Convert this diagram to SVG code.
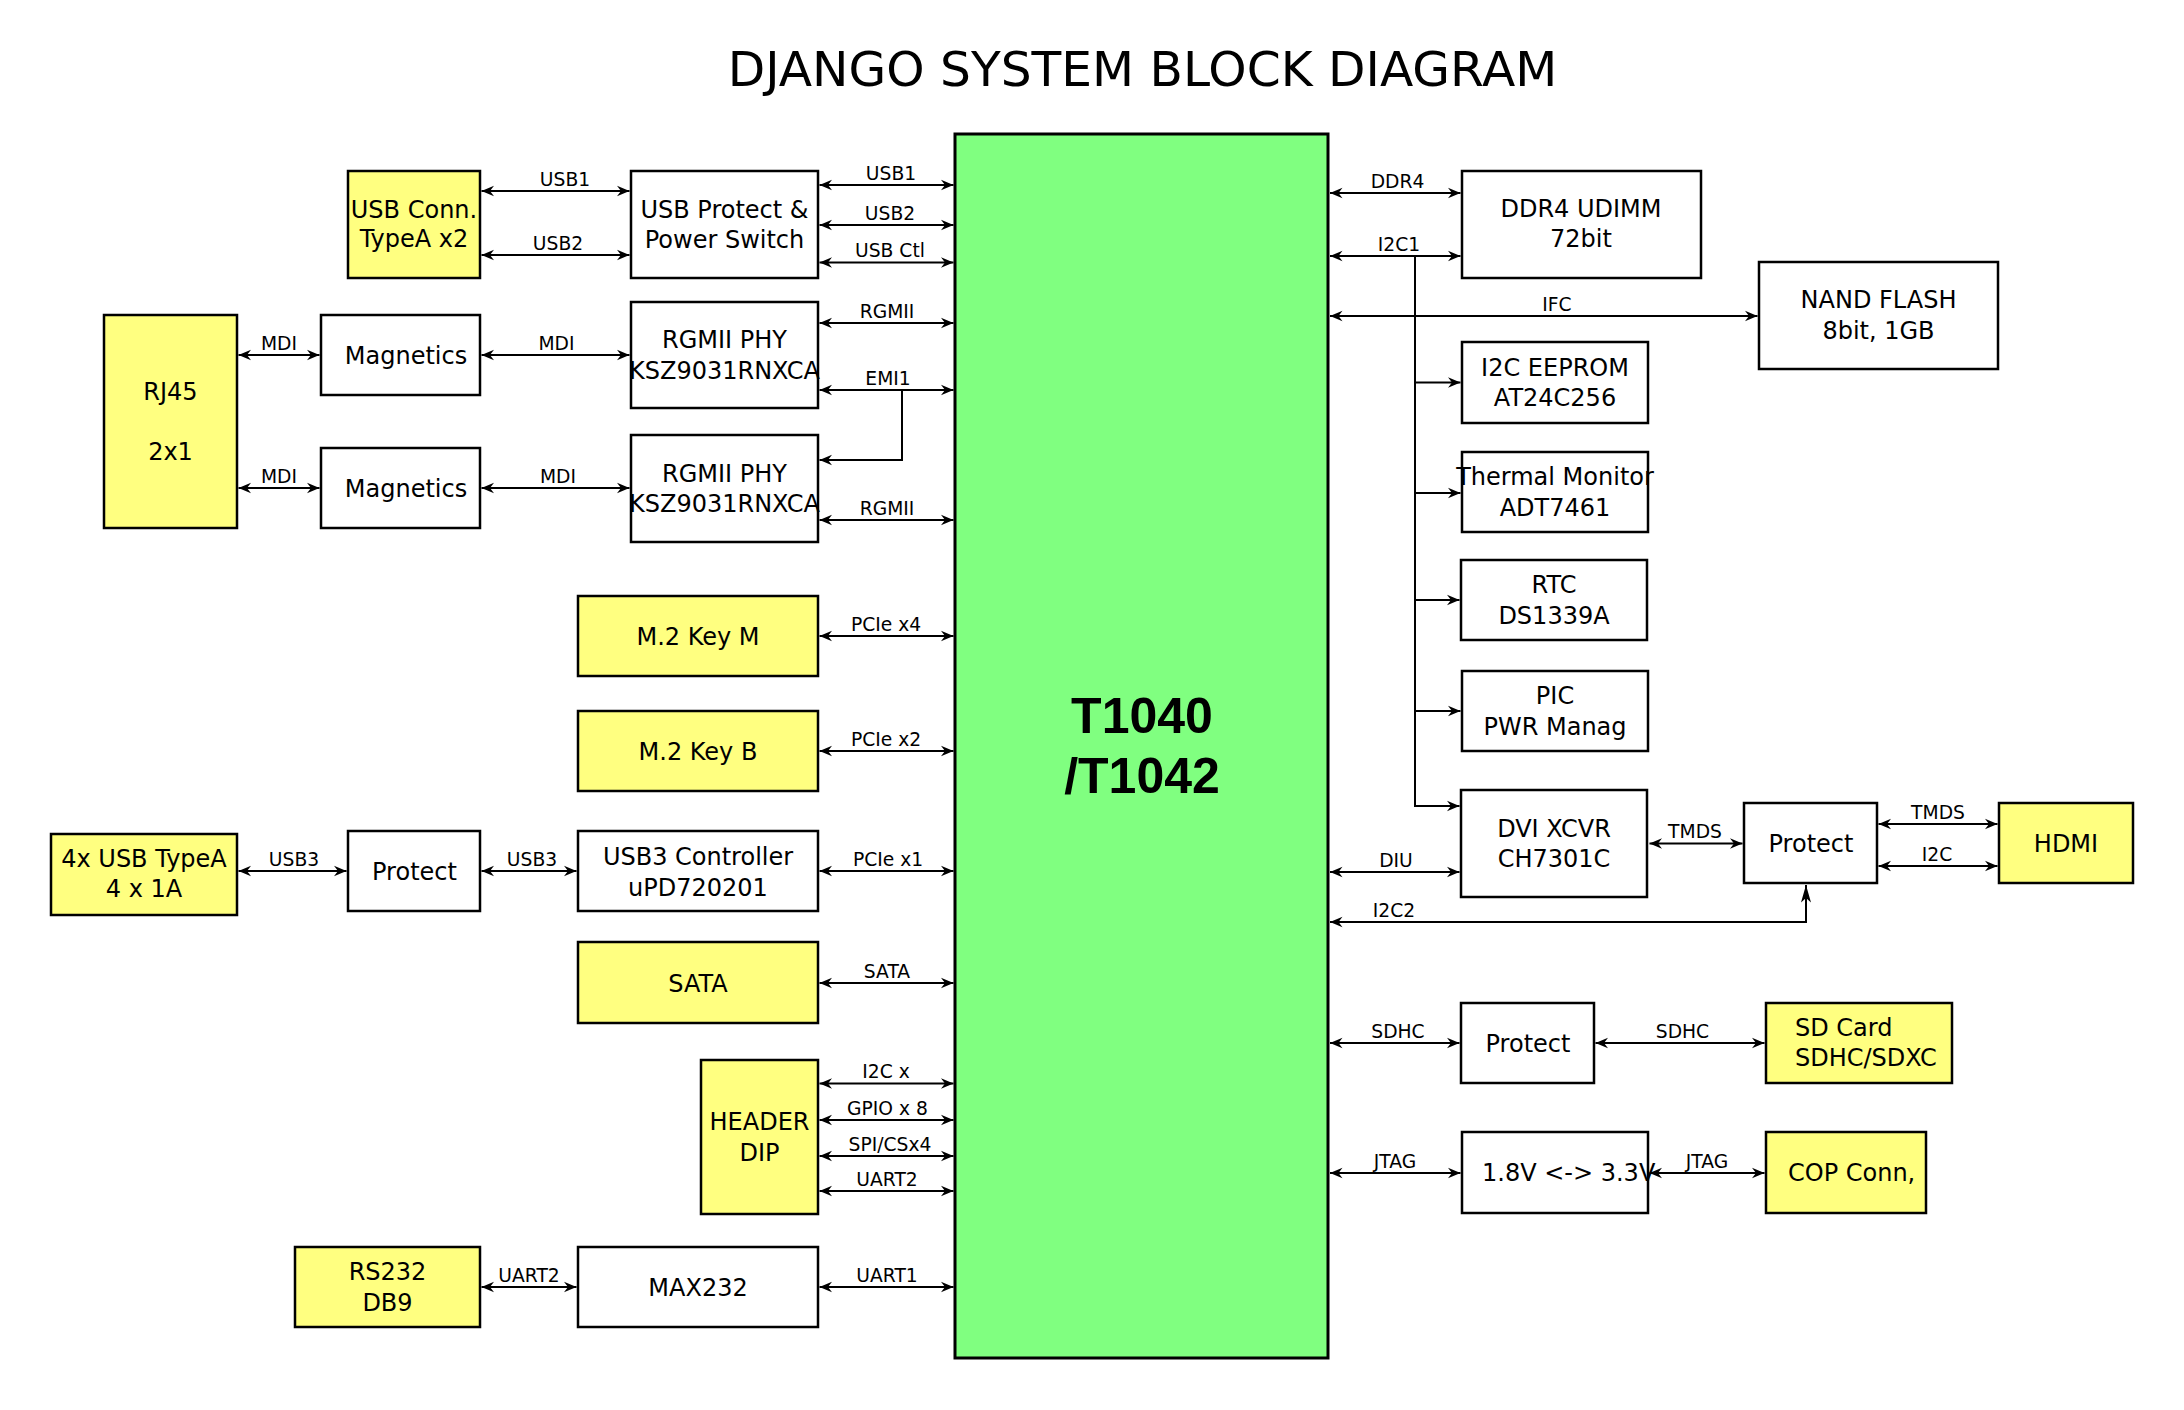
<svg xmlns="http://www.w3.org/2000/svg" width="2184" height="1410" viewBox="0 0 2184 1410">
<style>
.b{fill:#ffffff;stroke:#000;stroke-width:2.5}
.y{fill:#ffff80;stroke:#000;stroke-width:2.5}
.g{fill:#80ff80;stroke:#000;stroke-width:3}
text{font-family:"DejaVu Sans","Liberation Sans",sans-serif;fill:#000}
.t{font-size:24px;text-anchor:middle}
.s{font-size:24px;text-anchor:start}
.l{font-size:18.7px;text-anchor:middle}
.c{font-family:"Liberation Sans",Arial,sans-serif;font-weight:bold;font-size:50px;text-anchor:middle}
.h{font-size:48.7px;text-anchor:middle}
.w{fill:none;stroke:#000;stroke-width:2}
.d{marker-start:url(#a);marker-end:url(#a)}
.e{marker-end:url(#a)}
</style>
<defs>
<marker id="a" viewBox="-13 -6 14 12" refX="0" refY="0" markerWidth="14" markerHeight="12" markerUnits="userSpaceOnUse" orient="auto-start-reverse"><path d="M0,0 L-12.5,-5.2 L-8.5,0 L-12.5,5.2 Z" fill="#000"/></marker>
<marker id="u" viewBox="-18 -6 19 12" refX="0" refY="0" markerWidth="19" markerHeight="12" markerUnits="userSpaceOnUse" orient="auto-start-reverse"><path d="M0,0 L-17.5,-5 L-13,0 L-17.5,5 Z" fill="#000"/></marker>
</defs>
<rect width="2184" height="1410" fill="#fff"/>
<text class="h" x="1142.5" y="86">DJANGO SYSTEM BLOCK DIAGRAM</text>

<g id="cpu"><rect class="g" x="955" y="134" width="373" height="1224"/><text class="c" x="1142" y="733">T1040</text><text class="c" x="1142" y="793">/T1042</text></g>

<g id="usbconn"><rect class="y" x="348" y="171" width="132" height="107"/><text class="t" x="414" y="217.5">USB Conn.</text><text class="t" x="414" y="247">TypeA x2</text></g>
<g id="usbprot"><rect class="b" x="631" y="171" width="187" height="107"/><text class="t" x="724.5" y="217.5">USB Protect &amp;</text><text class="t" x="724.5" y="247.5">Power Switch</text></g>
<g id="rj45"><rect class="y" x="104" y="315" width="133" height="213"/><text class="t" x="170.5" y="400">RJ45</text><text class="t" x="170.5" y="460">2x1</text></g>
<g id="mag1"><rect class="b" x="321" y="315" width="159" height="80"/><text class="t" x="406" y="363.5">Magnetics</text></g>
<g id="mag2"><rect class="b" x="321" y="448" width="159" height="80"/><text class="t" x="406" y="496.5">Magnetics</text></g>
<g id="phy1"><rect class="b" x="631" y="302" width="187" height="106"/><text class="t" x="724.5" y="348">RGMII PHY</text><text class="t" x="724.5" y="378.5">KSZ9031RNXCA</text></g>
<g id="phy2"><rect class="b" x="631" y="435" width="187" height="107"/><text class="t" x="724.5" y="481.5">RGMII PHY</text><text class="t" x="724.5" y="512">KSZ9031RNXCA</text></g>
<g id="m2m"><rect class="y" x="578" y="596" width="240" height="80"/><text class="t" x="698" y="644.5">M.2 Key M</text></g>
<g id="m2b"><rect class="y" x="578" y="711" width="240" height="80"/><text class="t" x="698" y="759.5">M.2 Key B</text></g>
<g id="usb4x"><rect class="y" x="51" y="834" width="186" height="81"/><text class="t" x="144" y="867">4x USB TypeA</text><text class="t" x="144" y="897">4 x 1A</text></g>
<g id="prot3"><rect class="b" x="348" y="831" width="132" height="80"/><text class="t" x="414.5" y="879.5">Protect</text></g>
<g id="usb3c"><rect class="b" x="578" y="831" width="240" height="80"/><text class="t" x="698" y="865">USB3 Controller</text><text class="t" x="698" y="895.5">uPD720201</text></g>
<g id="sata"><rect class="y" x="578" y="942" width="240" height="81"/><text class="t" x="698" y="991.5">SATA</text></g>
<g id="header"><rect class="y" x="701" y="1060" width="117" height="154"/><text class="t" x="759.5" y="1130">HEADER</text><text class="t" x="759.5" y="1160.5">DIP</text></g>
<g id="rs232"><rect class="y" x="295" y="1247" width="185" height="80"/><text class="t" x="387.5" y="1280">RS232</text><text class="t" x="387.5" y="1310.5">DB9</text></g>
<g id="max232"><rect class="b" x="578" y="1247" width="240" height="80"/><text class="t" x="698" y="1295.5">MAX232</text></g>

<g id="ddr4"><rect class="b" x="1462" y="171" width="239" height="107"/><text class="t" x="1581" y="216.5">DDR4 UDIMM</text><text class="t" x="1581" y="246.5">72bit</text></g>
<g id="nand"><rect class="b" x="1759" y="262" width="239" height="107"/><text class="t" x="1878.5" y="308">NAND FLASH</text><text class="t" x="1878.5" y="338.5">8bit, 1GB</text></g>
<g id="eeprom"><rect class="b" x="1462" y="342" width="186" height="81"/><text class="t" x="1555" y="375.5">I2C EEPROM</text><text class="t" x="1555" y="405.5">AT24C256</text></g>
<g id="thermal"><rect class="b" x="1462" y="452" width="186" height="80"/><text class="t" x="1555" y="485">Thermal Monitor</text><text class="t" x="1555" y="515.5">ADT7461</text></g>
<g id="rtc"><rect class="b" x="1461" y="560" width="186" height="80"/><text class="t" x="1554" y="593">RTC</text><text class="t" x="1554" y="623.5">DS1339A</text></g>
<g id="pic"><rect class="b" x="1462" y="671" width="186" height="80"/><text class="t" x="1555" y="704">PIC</text><text class="t" x="1555" y="734.5">PWR Manag</text></g>
<g id="dvi"><rect class="b" x="1461" y="790" width="186" height="107"/><text class="t" x="1554" y="836.5">DVI XCVR</text><text class="t" x="1554" y="866.5">CH7301C</text></g>
<g id="proth"><rect class="b" x="1744" y="803" width="133" height="80"/><text class="t" x="1811" y="851.5">Protect</text></g>
<g id="hdmi"><rect class="y" x="1999" y="803" width="134" height="80"/><text class="t" x="2066" y="851.5">HDMI</text></g>
<g id="prots"><rect class="b" x="1461" y="1003" width="133" height="80"/><text class="t" x="1528" y="1051.5">Protect</text></g>
<g id="sdcard"><rect class="y" x="1766" y="1003" width="186" height="80"/><text class="s" x="1795" y="1035.5">SD Card</text><text class="s" x="1795" y="1065.5">SDHC/SDXC</text></g>
<g id="lvl"><rect class="b" x="1462" y="1132" width="186" height="81"/><text class="s" x="1482" y="1181">1.8V &lt;-&gt; 3.3V</text></g>
<g id="cop"><rect class="y" x="1766" y="1132" width="160" height="81"/><text class="s" x="1788" y="1181">COP Conn,</text></g>

<g id="connectors">
<path class="w d" d="M481.5,191H629.5"/><text class="l" x="565" y="186">USB1</text>
<path class="w d" d="M481.5,255H629.5"/><text class="l" x="558" y="250">USB2</text>
<path class="w d" d="M819.5,185H953.5"/><text class="l" x="891" y="180">USB1</text>
<path class="w d" d="M819.5,225H953.5"/><text class="l" x="890" y="219.5">USB2</text>
<path class="w d" d="M819.5,262.5H953.5"/><text class="l" x="890" y="257">USB Ctl</text>
<path class="w d" d="M819.5,323H953.5"/><text class="l" x="887" y="318">RGMII</text>
<path class="w d" d="M819.5,390H953.5"/><text class="l" x="888" y="385">EMI1</text>
<path class="w e" d="M902,390V460H819.5"/>
<path class="w d" d="M819.5,520H953.5"/><text class="l" x="887" y="514.5">RGMII</text>
<path class="w d" d="M238.5,355H319.5"/><text class="l" x="279" y="350">MDI</text>
<path class="w d" d="M238.5,488H319.5"/><text class="l" x="279" y="483">MDI</text>
<path class="w d" d="M481.5,355H629.5"/><text class="l" x="556.5" y="350">MDI</text>
<path class="w d" d="M481.5,488H629.5"/><text class="l" x="558" y="483">MDI</text>
<path class="w d" d="M819.5,636H953.5"/><text class="l" x="886" y="631">PCIe x4</text>
<path class="w d" d="M819.5,751H953.5"/><text class="l" x="886" y="746">PCIe x2</text>
<path class="w d" d="M238.5,871H346.5"/><text class="l" x="294" y="866">USB3</text>
<path class="w d" d="M481.5,871H576.5"/><text class="l" x="532" y="866">USB3</text>
<path class="w d" d="M819.5,871H953.5"/><text class="l" x="888" y="866">PCIe x1</text>
<path class="w d" d="M819.5,983H953.5"/><text class="l" x="887" y="978">SATA</text>
<path class="w d" d="M819.5,1083.5H953.5"/><text class="l" x="886" y="1078">I2C x</text>
<path class="w d" d="M819.5,1120H953.5"/><text class="l" x="887.5" y="1114.5">GPIO x 8</text>
<path class="w d" d="M819.5,1156H953.5"/><text class="l" x="890" y="1150.5">SPI/CSx4</text>
<path class="w d" d="M819.5,1191H953.5"/><text class="l" x="887" y="1186">UART2</text>
<path class="w d" d="M481.5,1287H576.5"/><text class="l" x="529" y="1282">UART2</text>
<path class="w d" d="M819.5,1287H953.5"/><text class="l" x="887" y="1282">UART1</text>

<path class="w d" d="M1330,193H1460.5"/><text class="l" x="1397.5" y="187.5">DDR4</text>
<path class="w d" d="M1330,256H1460.5"/><text class="l" x="1399" y="250.5">I2C1</text>
<path class="w d" d="M1330,316H1757.5"/><text class="l" x="1557" y="310.5">IFC</text>
<path class="w e" d="M1415,256V806H1459.5"/>
<path class="w e" d="M1415,382.5H1460.5"/>
<path class="w e" d="M1415,493H1460.5"/>
<path class="w e" d="M1415,600H1459.5"/>
<path class="w e" d="M1415,711H1460.5"/>
<path class="w d" d="M1330,872H1459.5"/><text class="l" x="1396" y="866.5">DIU</text>
<path class="w d" d="M1649.5,843.5H1742.5"/><text class="l" x="1695" y="838">TMDS</text>
<path class="w d" d="M1878.5,824H1997.5"/><text class="l" x="1938" y="818.5">TMDS</text>
<path class="w d" d="M1878.5,866H1997.5"/><text class="l" x="1937" y="861">I2C</text>
<path class="w" d="M1806,885V922H1330" marker-start="url(#u)" marker-end="url(#a)"/><text class="l" x="1394" y="917">I2C2</text>
<path class="w d" d="M1330,1043H1459.5"/><text class="l" x="1398" y="1037.5">SDHC</text>
<path class="w d" d="M1595.5,1043H1764.5"/><text class="l" x="1682.5" y="1037.5">SDHC</text>
<path class="w d" d="M1330,1173H1460.5"/><text class="l" x="1395" y="1167.5">JTAG</text>
<path class="w d" d="M1649.5,1173H1764.5"/><text class="l" x="1707" y="1167.5">JTAG</text>
</g>
</svg>
